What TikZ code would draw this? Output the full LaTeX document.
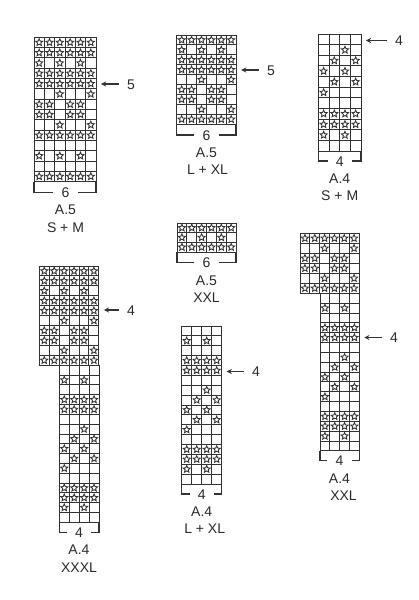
\documentclass[tikz,border=0pt]{standalone}
\usepackage{fontspec}
\setmainfont{Liberation Sans}
\usepackage{xcolor}
\usetikzlibrary{shapes.geometric, arrows, positioning}
\definecolor{gridline}{HTML}{333333}
\definecolor{textprimary}{HTML}{2B2B2B}

% name, left, top, cell width, cell height, rows
\newcommand{\starrows}[6]{%
    \foreach \row [count=\r] in {#6} {
        \foreach \bit [count=\k] in \row {
            \node[cell, minimum width=#4 pt, minimum height=#5 pt] (#1-\r-\k) at ({#2+(\k-0.5)*#4},{#3+(\r-0.5)*#5}) {};
            \ifnum\bit=1 \node[starmark] (#1-\r-\k-s) at (#1-\r-\k) {}; \fi
        }
    }
}

\begin{document}
\begin{tikzpicture}[
    x=1pt, y=-1pt,
    node distance=7pt,
    cell/.style={rectangle, draw=gridline, line width=0.92pt, inner sep=0pt, outer sep=0pt},
    starmark/.style={star, star points=5, star point ratio=2.2, draw=gridline, fill=white, line width=0.85pt, inner sep=0pt, minimum size=7.5pt},
    count/.style={inner sep=0pt, inner xsep=8pt, text=textprimary, text height=10pt, text depth=0pt, font=\fontsize{14}{14}\selectfont},
    caption/.style={inner sep=0pt, text=textprimary, text height=10pt, text depth=0pt, font=\fontsize{14}{14}\selectfont},
    bracket/.style={line width=1.4pt, draw=gridline},
    arrow/.style={line width=1.3pt, ->, >=stealth, draw=gridline, shorten >=5pt}
]
    \path[fill=white] (0,0) rectangle (418,600);
    \useasboundingbox (0,0) rectangle (418,600);

    % Charts
    \starrows{asm}{34}{37.3}{10.33}{10.31}{{1,1,1,1,1,1},{1,1,1,1,1,1},{1,0,1,0,1,0},{1,1,1,1,1,1},{1,1,1,1,1,1},{0,0,1,0,0,1},{1,1,0,1,1,0},{1,1,0,1,1,0},{0,0,1,0,0,1},{1,1,1,1,1,1},{0,0,0,0,0,0},{1,0,1,0,1,0},{0,0,0,0,0,0},{1,1,1,1,1,1}}
    \starrows{alx}{176.7}{35}{9.9}{9.92}{{1,1,1,1,1,1},{1,0,1,0,1,0},{1,1,1,1,1,1},{1,1,1,1,1,1},{0,0,1,0,0,1},{1,1,0,1,1,0},{1,1,0,1,1,0},{0,0,1,0,0,1},{1,1,1,1,1,1}}
    \starrows{axx}{177}{223}{9.85}{9.67}{{1,1,1,1,1,1},{1,0,1,0,1,0},{1,1,1,1,1,1}}
    \starrows{bsm}{318.3}{34}{10.67}{10.64}{{0,0,0,0},{0,0,1,0},{0,1,0,1},{1,0,1,0},{0,1,0,1},{1,0,0,0},{0,0,0,0},{1,1,1,1},{1,1,1,1},{1,0,1,0},{0,0,0,0}}
    \starrows{blx}{181.7}{326}{10}{9.875}{{0,0,0,0},{1,0,1,0},{0,0,0,0},{1,1,1,1},{1,1,1,1},{0,0,0,0},{0,0,1,0},{0,1,0,1},{1,0,1,0},{0,1,0,1},{1,0,0,0},{0,0,0,0},{1,1,1,1},{1,1,1,1},{1,0,1,0},{0,0,0,0}}
    \starrows{bxxtop}{300}{233.3}{9.83}{10}{{1,1,1,1,1,1},{0,0,1,0,0,1},{1,1,0,1,1,0},{1,1,0,1,1,0},{0,0,1,0,0,1},{1,1,1,1,1,1}}
    \starrows{bxx}{320}{293.3}{9.83}{9.85}{{0,0,0,0},{1,0,1,0},{0,0,0,0},{1,1,1,1},{1,1,1,1},{0,0,0,0},{0,0,1,0},{0,1,0,1},{1,0,1,0},{0,1,0,1},{1,0,0,0},{0,0,0,0},{1,1,1,1},{1,1,1,1},{1,0,1,0},{0,0,0,0}}
    \starrows{bxxxtop}{39.3}{266}{9.93}{9.93}{{1,1,1,1,1,1},{1,1,1,1,1,1},{1,0,1,0,1,0},{1,1,1,1,1,1},{1,1,1,1,1,1},{0,0,1,0,0,1},{1,1,0,1,1,0},{1,1,0,1,1,0},{0,0,1,0,0,1},{1,1,1,1,1,1}}
    \starrows{bxxx}{59.3}{365.3}{9.93}{9.81}{{0,0,0,0},{1,0,1,0},{0,0,0,0},{1,1,1,1},{1,1,1,1},{0,0,0,0},{0,0,1,0},{0,1,0,1},{1,0,1,0},{0,1,0,1},{1,0,0,0},{0,0,0,0},{1,1,1,1},{1,1,1,1},{1,0,1,0},{0,0,0,0}}

    % Widths and captions
    \node[count] (asmwidth) at (65.5,192.5) {6};
    \node[caption, below=of asmwidth] (asmname) {A.5};
    \node[caption, below=of asmname] (asmsize) {S + M};
    \node[count] (alxwidth) at (206.5,135) {6};
    \node[caption, below=of alxwidth] (alxname) {A.5};
    \node[caption, below=of alxname, xshift=1pt] (alxsize) {L + XL};
    \node[count] (axxwidth) at (206.5,262.7) {6};
    \node[caption, below=of axxwidth] (axxname) {A.5};
    \node[caption, below=of axxname] (axxsize) {XXL};
    \node[count] (bsmwidth) at (339.7,161) {4};
    \node[caption, below=of bsmwidth] (bsmname) {A.4};
    \node[caption, below=of bsmname] (bsmsize) {S + M};
    \node[count] (blxwidth) at (201.7,494) {4};
    \node[caption, below=of blxwidth] (blxname) {A.4};
    \node[caption, below=of blxname, xshift=3pt] (blxsize) {L + XL};
    \node[count] (bxxwidth) at (339.5,460.7) {4};
    \node[caption, below=of bxxwidth] (bxxname) {A.4};
    \node[caption, below=of bxxname, xshift=4pt] (bxxsize) {XXL};
    \node[count] (bxxxwidth) at (79,532.5) {4};
    \node[caption, below=of bxxxwidth] (bxxxname) {A.4};
    \node[caption, below=of bxxxname] (bxxxsize) {XXXL};

    % Brackets
    \draw[bracket] (asm-14-1.south west) |- (asmwidth.west);
    \draw[bracket] (asm-14-6.south east) |- (asmwidth.east);
    \draw[bracket] (alx-9-1.south west) |- (alxwidth.west);
    \draw[bracket] (alx-9-6.south east) |- (alxwidth.east);
    \draw[bracket] (axx-3-1.south west) |- (axxwidth.west);
    \draw[bracket] (axx-3-6.south east) |- (axxwidth.east);
    \draw[bracket] (bsm-11-1.south west) |- (bsmwidth.west);
    \draw[bracket] (bsm-11-4.south east) |- (bsmwidth.east);
    \draw[bracket] (blx-16-1.south west) |- (blxwidth.west);
    \draw[bracket] (blx-16-4.south east) |- (blxwidth.east);
    \draw[bracket] (bxx-16-1.south west) |- (bxxwidth.west);
    \draw[bracket] (bxx-16-4.south east) |- (bxxwidth.east);
    \draw[bracket] (bxxx-16-1.south west) |- (bxxxwidth.west);
    \draw[bracket] (bxxx-16-4.south east) |- (bxxxwidth.east);

    % Row markers
    \node[count] (asmrow) at (131,84) {5};
    \node[count] (alxrow) at (271,70) {5};
    \node[count] (bsmrow) at (399,40.5) {4};
    \node[count] (blxrow) at (256,371.5) {4};
    \node[count] (bxxrow) at (394,337.5) {4};
    \node[count] (bxxxrow) at (131,310) {4};
    \draw[arrow] (asmrow.west) -- (asmrow.west -| asm-5-6.east);
    \draw[arrow] (alxrow.west) -- (alxrow.west -| alx-4-6.east);
    \draw[arrow] (bsmrow.west) -- (bsmrow.west -| bsm-1-4.east);
    \draw[arrow] (blxrow.west) -- (blxrow.west -| blx-5-4.east);
    \draw[arrow] (bxxrow.west) -- (bxxrow.west -| bxx-5-4.east);
    \draw[arrow] (bxxxrow.west) -- (bxxxrow.west -| bxxxtop-5-6.east);
\end{tikzpicture}
\end{document}
